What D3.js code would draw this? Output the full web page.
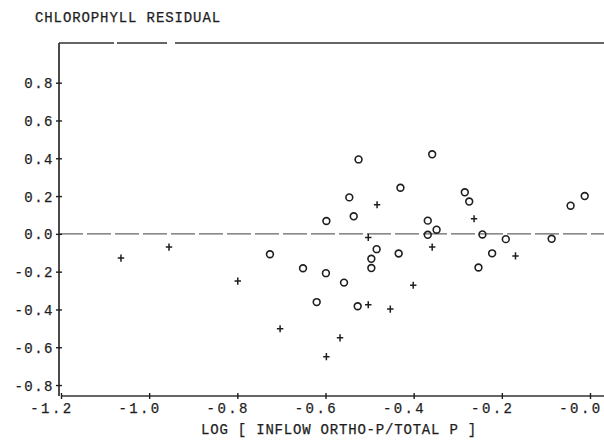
<!DOCTYPE html>
<html><head><meta charset="utf-8">
<script src="https://cdn.jsdelivr.net/npm/d3@7"></script>
<style>
html,body{margin:0;padding:0;background:#fff;}
svg text{font-family:"Liberation Mono","DejaVu Sans Mono",monospace;fill:#1e1e1e;stroke:#1e1e1e;stroke-width:0.25px;}
</style></head>
<body><svg id="c" width="604" height="448"></svg>
<script>
// Data
const circleX = [-0.525,-0.430,-0.546,-0.536,-0.598,-0.484,-0.726,-0.651,-0.599,-0.558,-0.620,-0.527,-0.496,-0.496,-0.434,-0.358,-0.284,-0.274,-0.368,-0.348,-0.368,-0.244,-0.191,-0.087,-0.044,-0.012,-0.222,-0.253];
const circleY = [0.394,0.244,0.193,0.093,0.068,-0.081,-0.108,-0.182,-0.208,-0.258,-0.361,-0.383,-0.132,-0.181,-0.104,0.421,0.220,0.171,0.070,0.022,-0.005,-0.003,-0.028,-0.026,0.149,0.200,-0.103,-0.178];
const plusX = [-1.064,-0.955,-0.799,-0.703,-0.598,-0.567,-0.503,-0.503,-0.453,-0.483,-0.263,-0.358,-0.169,-0.401];
const plusY = [-0.128,-0.070,-0.250,-0.502,-0.650,-0.550,-0.019,-0.375,-0.398,0.154,0.080,-0.070,-0.117,-0.272];
const xTicks = [-1.2,-1.0,-0.8,-0.6,-0.4,-0.2,0.0];
const xTickLabels = ["-1.2","-1.0","-0.8","-0.6","-0.4","-0.2","-0.0"];
const yTicks = [0.8,0.6,0.4,0.2,0.0,-0.2,-0.4,-0.6,-0.8];
const yTickLabels = ["0.8","0.6","0.4","0.2","0.0","-0.2","-0.4","-0.6","-0.8"];
const titleText = "CHLOROPHYLL RESIDUAL";
const xTitleText = "LOG [ INFLOW ORTHO-P/TOTAL P ]";

const svg = d3.select("#c");
const x = d3.scaleLinear().domain([-1.2, 0.0]).range([61, 590]);
const y = d3.scaleLinear().domain([-0.858, 1.01]).range([396, 43]);
const ink = "#1e1e1e";

// frame: left spine, top line, bottom axis line
svg.append("line").attr("x1",59).attr("x2",59).attr("y1",y(1.01)).attr("y2",y(-0.858))
  .attr("stroke",ink).attr("stroke-width",1.6);
svg.append("line").attr("x1",59).attr("x2",604).attr("y1",y(1.01)).attr("y2",y(1.01))
  .attr("stroke","#333").attr("stroke-width",1.3).attr("stroke-dasharray","55,3,50,8,1000");
svg.append("line").attr("x1",61).attr("x2",604).attr("y1",y(-0.858)).attr("y2",y(-0.858))
  .attr("stroke","#333").attr("stroke-width",1.3);

// zero reference line (dashed)
svg.append("line").attr("x1",59).attr("x2",604).attr("y1",y(0)).attr("y2",y(0))
  .attr("stroke","#666").attr("stroke-width",1.1).attr("stroke-dasharray","24,4");

// y axis via d3 axis (ticks crossing the spine)
const yAxis = svg.append("g").attr("transform","translate(59,0)")
  .call(d3.axisLeft(y).tickValues(yTicks).tickSize(0).tickFormat((d,i)=>yTickLabels[i]));
yAxis.select(".domain").remove();
yAxis.selectAll(".tick line").remove();
yAxis.selectAll(".tick").append("line").attr("x1",-3).attr("x2",3).attr("stroke",ink).attr("stroke-width",1.4);
yAxis.selectAll(".tick text").attr("x",-5).attr("dy","0.36em")
  .style("font-size","14px").style("letter-spacing","1.5px").attr("fill",ink);

// x axis
const xAxis = svg.append("g").attr("transform",`translate(0,${y(-0.858)})`)
  .call(d3.axisBottom(x).tickValues(xTicks).tickSize(0).tickFormat((d,i)=>xTickLabels[i]));
xAxis.select(".domain").remove();
xAxis.selectAll(".tick line").remove();
xAxis.selectAll(".tick").append("line").attr("y1",-3).attr("y2",3).attr("stroke",ink).attr("stroke-width",1.4);
xAxis.selectAll(".tick text").attr("text-anchor","end").attr("x",12).attr("y",17)
  .attr("dy",0).style("font-size","14px").style("letter-spacing","2.4px").attr("fill",ink);

// markers
svg.append("g").selectAll("circle").data(circleX).join("circle")
  .attr("cx",(d)=>x(d)).attr("cy",(d,i)=>y(circleY[i])).attr("r",3.4)
  .attr("fill","none").attr("stroke",ink).attr("stroke-width",1.6);
svg.append("g").selectAll("path").data(plusX).join("path")
  .attr("transform",(d,i)=>`translate(${x(d)},${y(plusY[i])})`)
  .attr("d", d3.symbol().type({draw(ctx){ctx.moveTo(-3.2,0);ctx.lineTo(3.2,0);ctx.moveTo(0,-3.6);ctx.lineTo(0,3.6);}})())
  .attr("fill","none").attr("stroke",ink).attr("stroke-width",1.5);

// titles
svg.append("text").attr("x",35).attr("y",22).text(titleText)
  .style("font-size","14px").style("letter-spacing","0.9px");
svg.append("text").attr("x",201).attr("y",434).text(xTitleText)
  .style("font-size","14px").style("letter-spacing","0.8px");
</script></body></html>
